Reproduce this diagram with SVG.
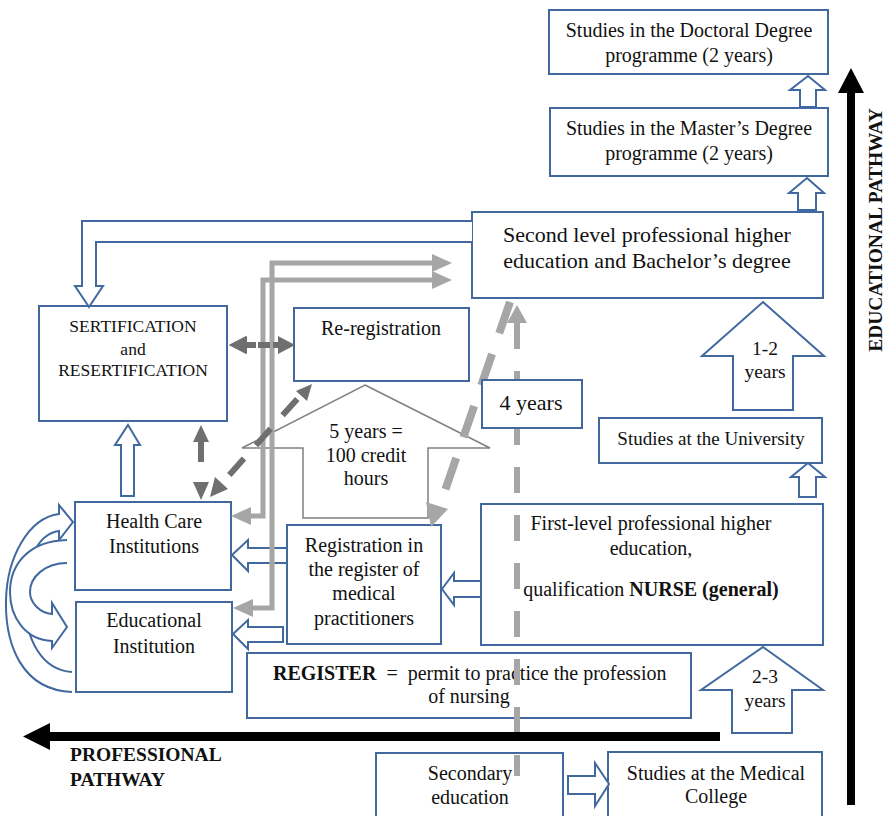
<svg xmlns="http://www.w3.org/2000/svg" width="886" height="816" viewBox="0 0 886 816">
<defs>
<style>
.box{fill:#fff;stroke:#41699f;stroke-width:2}
.hol{fill:#fff;stroke:#41699f;stroke-width:2;stroke-linejoin:miter}
.t{font-family:"Liberation Serif","Times New Roman",serif;font-size:20px;fill:#111;text-anchor:middle}
.b{font-weight:bold}
.lg{stroke:#a6a6a6;stroke-width:5;fill:none}
.lgd{stroke:#a6a6a6;fill:none}
.dg{stroke:#6f6f6f;stroke-width:6;fill:none}
.lgh{fill:#a6a6a6}
.dgh{fill:#6f6f6f}
</style>
<marker id="mLg" viewBox="0 0 20 20" refX="2" refY="10" markerWidth="20" markerHeight="20" markerUnits="userSpaceOnUse" orient="auto-start-reverse"><path d="M0,1 L20,10 L0,19 Z" fill="#a6a6a6"/></marker>
<marker id="mDg" viewBox="0 0 18 18" refX="2" refY="9" markerWidth="18" markerHeight="18" markerUnits="userSpaceOnUse" orient="auto-start-reverse"><path d="M0,0 L18,9 L0,18 Z" fill="#6f6f6f"/></marker>
</defs>
<rect width="886" height="816" fill="#fff"/>

<!-- nodes -->
<g id="doctoral">
<rect class="box" x="549" y="10" width="279" height="64"/>
<text class="t" x="689" y="37">Studies in the Doctoral Degree</text>
<text class="t" x="689" y="62">programme (2 years)</text>
</g>
<g id="masters">
<rect class="box" x="550" y="108" width="278" height="68"/>
<text class="t" x="689" y="135">Studies in the Master’s Degree</text>
<text class="t" x="689" y="160">programme (2 years)</text>
</g>
<g id="second-level">
<rect class="box" x="472" y="212" width="351" height="86"/>
<text class="t" x="647" y="242" style="font-size:22px">Second level professional higher</text>
<text class="t" x="647" y="268" style="font-size:22px">education and Bachelor’s degree</text>
</g>
<g id="arrow-1-2-years">
<path class="hol" d="M763,302 L824,356 L793,356 L793,410 L733,410 L733,356 L702,356 Z"/>
<text class="t" x="765" y="355" style="font-size:19.5px">1-2</text>
<text class="t" x="765" y="378" style="font-size:19.5px">years</text>
</g>
<g id="university">
<rect class="box" x="599" y="418" width="223" height="45"/>
<text class="t" x="711" y="445" style="font-size:19px">Studies at the University</text>
</g>
<g id="first-level">
<rect class="box" x="481" y="504" width="342" height="141"/>
<text class="t" x="651" y="530">First-level professional higher</text>
<text class="t" x="651" y="555">education,</text>
<text class="t" x="651" y="596">qualification <tspan class="b">NURSE (general)</tspan></text>
</g>
<g id="arrow-2-3-years">
<path class="hol" d="M763,647 L823,690 L792,690 L792,733 L732,733 L732,690 L701,690 Z"/>
<text class="t" x="765" y="683" style="font-size:19.5px">2-3</text>
<text class="t" x="765" y="707" style="font-size:19.5px">years</text>
</g>
<g id="register">
<rect class="box" x="247" y="653" width="444" height="65"/>
<text class="t" x="273" y="680" style="text-anchor:start" xml:space="preserve"><tspan class="b">REGISTER</tspan>  =  permit to practice the profession</text>
<text class="t" x="469" y="703">of nursing</text>
</g>
<g id="secondary">
<rect class="box" x="376" y="753" width="187" height="70"/>
<text class="t" x="470" y="780">Secondary</text>
<text class="t" x="470" y="804">education</text>
</g>
<g id="medical-college">
<rect class="box" x="608" y="752" width="214" height="70"/>
<text class="t" x="716" y="780">Studies at the Medical</text>
<text class="t" x="716" y="803">College</text>
</g>
<g id="sertification">
<rect class="box" x="39" y="306" width="188" height="115"/>
<text class="t" x="133" y="332" style="font-size:17.5px">SERTIFICATION</text>
<text class="t" x="133" y="355" style="font-size:17.5px">and</text>
<text class="t" x="133" y="376" style="font-size:17.5px">RESERTIFICATION</text>
</g>
<g id="re-registration">
<rect class="box" x="294" y="308" width="175" height="73"/>
<text class="t" x="381" y="335">Re-registration</text>
</g>
<g id="five-years">
<path d="M365,385 L490,448 L428,448 L428,518 L303,518 L303,448 L242,448 Z" fill="#fff" stroke="#808080" stroke-width="1.5"/>
<text class="t" x="366" y="438">5 years =</text>
<text class="t" x="366" y="462">100 credit</text>
<text class="t" x="366" y="485">hours</text>
</g>
<g id="health-care">
<rect class="box" x="75" y="502" width="156" height="88"/>
<text class="t" x="154" y="528">Health Care</text>
<text class="t" x="154" y="553">Institutions</text>
</g>
<g id="educational">
<rect class="box" x="76" y="602" width="156" height="90"/>
<text class="t" x="154" y="627">Educational</text>
<text class="t" x="154" y="653">Institution</text>
</g>
<g id="registration">
<rect class="box" x="287" y="525" width="154" height="119"/>
<text class="t" x="364" y="552">Registration in</text>
<text class="t" x="364" y="576">the register of</text>
<text class="t" x="364" y="600">medical</text>
<text class="t" x="364" y="625">practitioners</text>
</g>

<!-- connectors -->
<g id="connectors">
<!-- blue hollow arrows -->
<path class="hol" d="M808,76 L825,90 L816,90 L816,107 L800,107 L800,90 L790,90 Z"/>
<path class="hol" d="M807,178 L824,193 L816,193 L816,210 L798,210 L798,193 L789,193 Z"/>
<path class="hol" d="M808,463 L825,477 L816,477 L816,497 L799,497 L799,477 L791,477 Z"/>
<path class="hol" d="M568,776 L595,776 L595,763 L609,784 L595,806 L595,794 L568,794 Z"/>
<path class="hol" d="M442,589 L454,573 L454,581 L481,581 L481,597 L454,597 L454,605 Z"/>
<path class="hol" d="M232,555 L248,540 L248,548 L287,548 L287,563 L248,563 L248,571 Z"/>
<path class="hol" d="M233,634 L248,620 L248,627 L283,627 L283,642 L248,642 L248,649 Z"/>
<path class="hol" d="M128,425 L140,445 L134,445 L134,496 L121,496 L121,445 L115,445 Z"/>
<path class="hol" d="M472,221 L82,221 L82,286 L75,286 L89,307 L103,286 L96,286 L96,242 L472,242"/>
<!-- curved arrows -->
<path class="hol" fill="none" d="M72,692 C22,690 5,645 6,600 C7,558 28,518 59,514 L59,505 L73,522 L59,540 L59,531 C36,534 25,565 25,600 C25,640 42,670 72,672"/>
<path class="hol" fill="none" d="M67,540 C28,541 10,565 10,592 C10,618 26,640 52,641 L52,648 L67,627 L52,603 L52,614 C40,613 30,603 30,592 C30,577 45,563 67,563"/>
<!-- light gray connectors -->
<path class="lg" d="M249,516 L263,516 L263,280 L434,280" marker-start="url(#mLg)" marker-end="url(#mLg)"/>
<path class="lg" d="M251,608 L272,608 L272,263 L434,263" marker-start="url(#mLg)" marker-end="url(#mLg)"/>
<!-- dark gray dashed arrows -->
<path class="dg" d="M245,345 L256,345 M258,345 L270,345 M273,345 L280,345" marker-start="url(#mDg)" />
<path d="M229,345 L246,336 L246,354 Z" class="dgh"/>
<path d="M295,345 L278,336 L278,354 Z" class="dgh"/>
<path class="dg" d="M201,442 L201,462"/>
<path d="M201,425 L193,442 L209,442 Z" class="dgh"/>
<path d="M201,500 L193,482 L209,482 Z" class="dgh"/>
<path class="dg" d="M224,481 L299,397" stroke-dasharray="0 8 22 18 22 18 22 18"/>
<path d="M210,497 L215,477 L228,489 Z" class="dgh"/>
<path d="M312,384 L296,391 L307,401 Z" class="dgh"/>
<!-- light gray dashed lines -->
<path class="lgd" d="M517,323 L517,776" stroke-width="6" stroke-dasharray="26 22"/>
<path d="M517,305 L507,323 L527,323 Z" class="lgh"/>
<path class="lgd" d="M510,302 L440,505" stroke-width="8" stroke-dasharray="33 22"/>
<path d="M431,527 L426,502 L448,509 Z" class="lgh"/>
</g>

<g id="four-years">
<rect class="box" x="482" y="380" width="100" height="48"/>
<text class="t" x="531" y="410" style="font-size:22px">4 years</text>
</g>

<g id="professional-pathway">
<rect x="50" y="732" width="670" height="9" fill="#000"/>
<path d="M23,736.5 L50,723 L50,750 Z" fill="#000"/>
<text class="t b" x="70" y="761" style="text-anchor:start;font-size:19.5px">PROFESSIONAL</text>
<text class="t b" x="70" y="786" style="text-anchor:start;font-size:19.5px">PATHWAY</text>
</g>
<g id="educational-pathway">
<rect x="847" y="92" width="8" height="713" fill="#000"/>
<path d="M851,68 L838,93 L864,93 Z" fill="#000"/>
<text class="t b" transform="translate(882,230) rotate(-90)" style="font-size:19.5px">EDUCATIONAL PATHWAY</text>
</g>
</svg>
